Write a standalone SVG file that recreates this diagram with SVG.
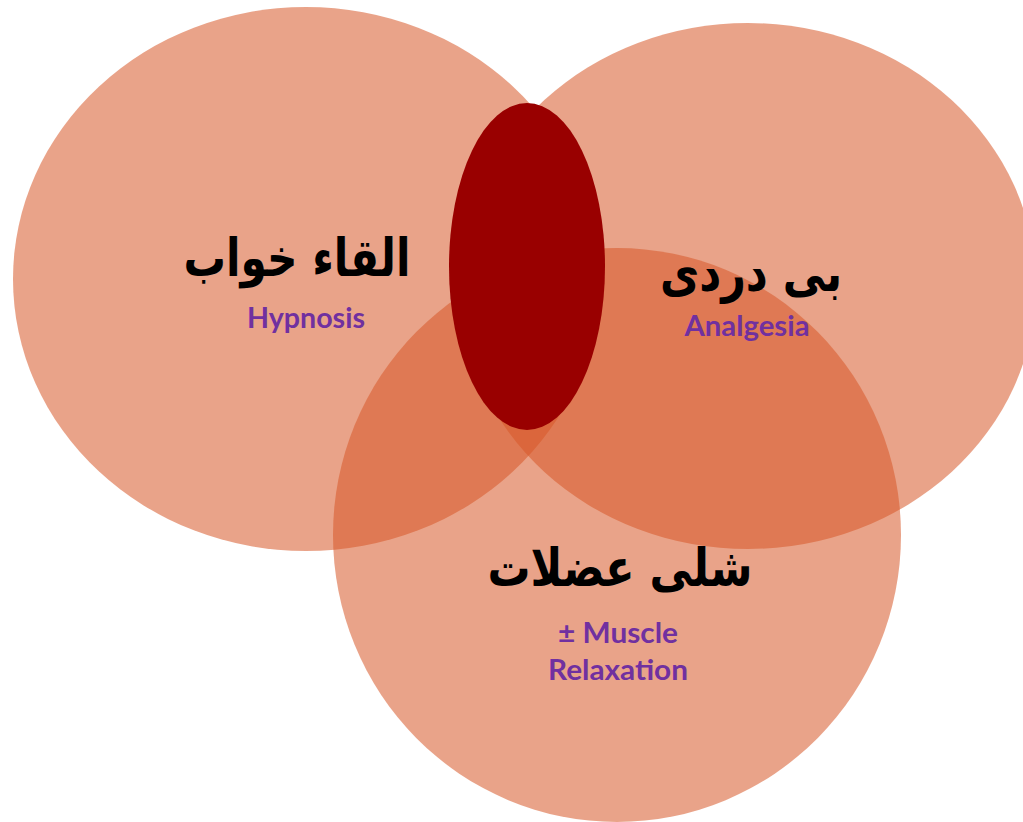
<svg xmlns="http://www.w3.org/2000/svg" width="1023" height="822" viewBox="0 0 1023 822">
<style>
.c{fill:rgb(215,88,40);fill-opacity:0.55}
.fa{font-family:"DejaVu Sans","Noto Sans",sans-serif;font-weight:bold;fill:#000;text-anchor:middle;font-size:52px}
.en{font-family:Lato,"Open Sans",sans-serif;font-weight:bold;fill:#7030A0;text-anchor:middle;font-size:29px}
</style>
<rect width="1023" height="822" fill="#fff"/>
<g id="hypnosis">
<ellipse class="c" cx="306" cy="279" rx="293" ry="272"/>
</g>
<g id="analgesia">
<ellipse class="c" cx="748" cy="286" rx="288" ry="263"/>
</g>
<g id="relaxation">
<ellipse class="c" cx="617" cy="535" rx="284" ry="287"/>
</g>
<g id="center">
<ellipse cx="527" cy="266.5" rx="78" ry="163.5" fill="#990000"/>
</g>
<g id="labels">
<text class="fa" x="297" y="276" textLength="227" lengthAdjust="spacingAndGlyphs">القاء خواب</text>
<text class="en" x="306" y="328" textLength="118" lengthAdjust="spacingAndGlyphs">Hypnosis</text>
<text class="fa" x="751" y="291" textLength="182" lengthAdjust="spacingAndGlyphs">بی دردی</text>
<text class="en" x="747" y="336" textLength="125" lengthAdjust="spacingAndGlyphs">Analgesia</text>
<text class="fa" x="620" y="586" textLength="265" lengthAdjust="spacingAndGlyphs">شلی عضلات</text>
<text class="en" x="618" y="643" textLength="120" lengthAdjust="spacingAndGlyphs">± Muscle</text>
<text class="en" x="618" y="680" textLength="140" lengthAdjust="spacingAndGlyphs">Relaxation</text>
</g>
<g id="connectors"/>
</svg>
